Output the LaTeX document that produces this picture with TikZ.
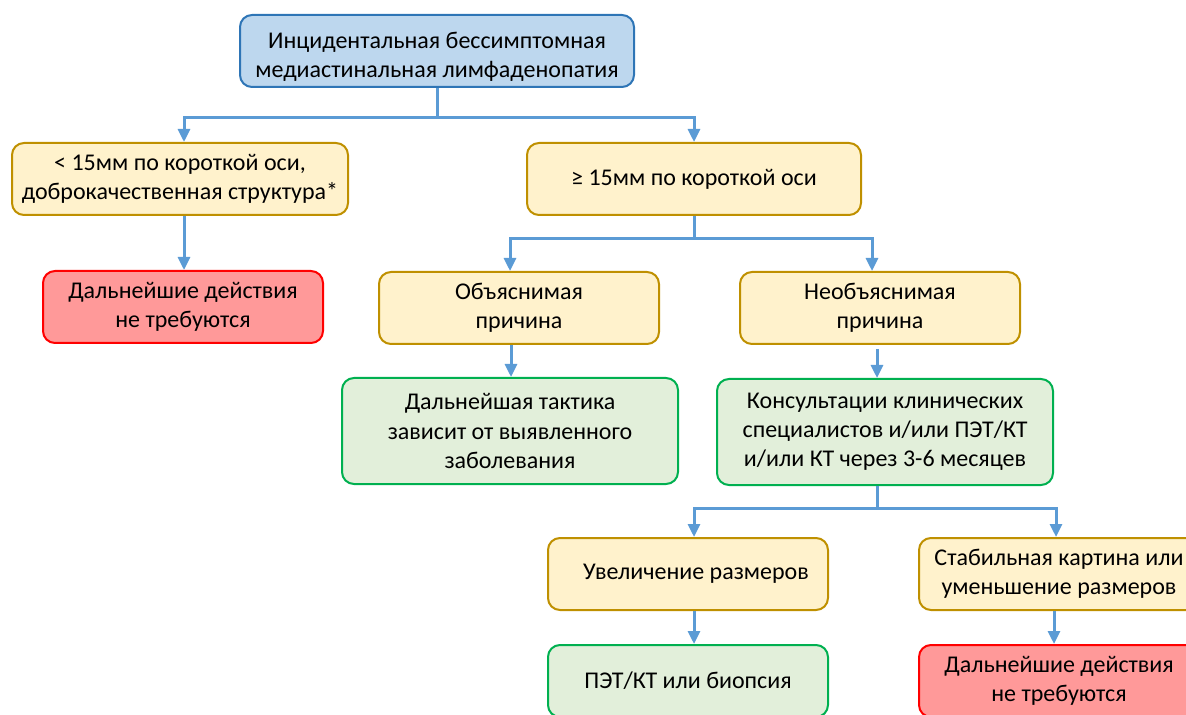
\documentclass[tikz,border=0pt]{standalone}
\usepackage{fontspec}
\setmainfont{Carlito}
\usetikzlibrary{arrows.meta,positioning}
\definecolor{bluefill}{HTML}{BDD7EE}
\definecolor{blueline}{HTML}{2E75B6}
\definecolor{yelfill}{HTML}{FFF2CC}
\definecolor{yelline}{HTML}{BF9000}
\definecolor{redfill}{HTML}{FF9999}
\definecolor{redline}{HTML}{FF0000}
\definecolor{grnfill}{HTML}{E2EFDA}
\definecolor{grnline}{HTML}{00B050}
\definecolor{linkblue}{HTML}{5B9BD5}

\begin{document}
\begin{tikzpicture}[x=0.5pt,y=-0.5pt,
    box/.style={rectangle,rounded corners=6pt,line width=1pt,align=center,inner sep=2pt,
        font=\fontsize{12}{14.6}\selectfont,minimum width=140pt,minimum height=36pt},
    bluebox/.style={box,fill=bluefill,draw=blueline},
    yelbox/.style={box,fill=yelfill,draw=yelline},
    redbox/.style={box,fill=redfill,draw=redline},
    grnbox/.style={box,fill=grnfill,draw=grnline},
    link/.style={draw=linkblue,line width=1.5pt,-{Triangle[width=6pt,length=6.5pt]}}]
    \useasboundingbox (0,0) rectangle (1186,715);

    \path (437,51) node[bluebox,minimum width=197pt] (incid) {\rule{0pt}{14pt}Инцидентальная бессимптомная\\медиастинальная лимфаденопатия};
    \path (180,179) node[yelbox,minimum width=168pt] (small) {< 15мм по короткой оси,\\доброкачественная структура*};
    \path (694,179) node[yelbox,minimum width=167pt] (big) {≥ 15мм по короткой оси};
    \path (183,307) node[redbox] (none1) {Дальнейшие действия\\не требуются};
    \path (519,308) node[yelbox] (expl) {Объяснимая\\причина};
    \path (880,308) node[yelbox] (unexpl) {Необъяснимая\\причина};
    \path (510,431) node[grnbox,minimum width=168pt,minimum height=53pt] (tactic) {Дальнейшая тактика\\зависит от выявленного\\заболевания};
    \path (885,432) node[grnbox,minimum width=168pt,minimum height=53pt] (consult) {Консультации клинических\\специалистов и/или ПЭТ/КТ\\и/или КТ через 3-6 месяцев};
    \path (688,574) node[yelbox] (incr) {\hspace{8pt}Увеличение размеров};
    \path (1059,574) node[yelbox] (stable) {Стабильная картина или\\уменьшение размеров};
    \path (688,681) node[grnbox] (biopsy) {ПЭТ/КТ или биопсия};
    \path (1059,681) node[redbox] (none2) {Дальнейшие действия\\не требуются};

    \draw[link] (incid.south) -- ++(0,30) -| ([xshift=2pt]small.north);
    \draw[link] (incid.south) -- ++(0,30) -| (big.north);
    \draw[link] ([xshift=2pt]small.south) -- ([xshift=2pt]small.south |- none1.north);
    \draw[link] (big.south) -- ++(0,23) -| ([xshift=-4.5pt]expl.north);
    \draw[link] (big.south) -- ++(0,23) -| ([xshift=-4pt]unexpl.north);
    \draw[link] ([xshift=-4pt]expl.south) -- ([xshift=-4pt]expl.south |- tactic.north);
    \draw[link] ([xshift=-1.5pt,yshift=-2pt]unexpl.south) -- ([xshift=-1.5pt]unexpl.south |- consult.north);
    \draw[link] ([xshift=-4pt]consult.south) -- ++(0,22) -| ([xshift=3pt]incr.north);
    \draw[link] ([xshift=-4pt]consult.south) -- ++(0,22) -| ([xshift=-1.5pt]stable.north);
    \draw[link] ([xshift=3pt]incr.south) -- ([xshift=3pt]incr.south |- biopsy.north);
    \draw[link] ([xshift=-2.5pt]stable.south) -- ([xshift=-2.5pt]stable.south |- none2.north);
\end{tikzpicture}
\end{document}
